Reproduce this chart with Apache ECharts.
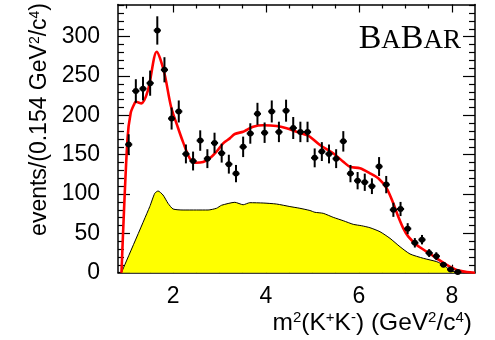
<!DOCTYPE html>
<html>
<head>
<meta charset="utf-8">
<script src="https://cdn.jsdelivr.net/npm/echarts@6/dist/echarts.min.js"></script>
<style>
  html, body { margin: 0; padding: 0; background: #fff; }
  #chart { width: 495px; height: 340px; }
</style>
</head>
<body>
<div id="chart"></div>
<script>
// m^2(K+K-) bin centres (GeV^2/c^4), bin width 0.154
const binCenters = [1.045, 1.199, 1.353, 1.507, 1.661, 1.815, 1.969, 2.123, 2.277, 2.431,
  2.585, 2.739, 2.893, 3.047, 3.201, 3.355, 3.509, 3.663, 3.817, 3.971,
  4.125, 4.279, 4.433, 4.587, 4.741, 4.895, 5.049, 5.203, 5.357, 5.511,
  5.665, 5.819, 5.973, 6.127, 6.281, 6.435, 6.589, 6.743, 6.897, 7.051,
  7.205, 7.359, 7.513, 7.667, 7.821, 7.975, 8.129];
const counts = [163, 231, 234, 241, 308, 258, 196, 205, 151, 142,
  168, 145, 165, 152, 138, 126, 160, 177, 202, 178,
  205, 179, 206, 184, 179, 179, 146, 154, 151, 145,
  167, 126, 117, 115, 110, 135, 112, 80, 81, 56,
  38, 42, 25, 21, 10, 4, 1];
const countErrors = [13, 15, 15, 16, 18, 16, 14, 14, 12, 12,
  13, 12, 13, 12, 12, 11, 13, 13, 14, 13,
  14, 13, 14, 14, 13, 13, 12, 12, 12, 12,
  13, 11, 11, 11, 10, 12, 11, 9, 9, 7,
  6, 6, 5, 5, 3, 2, 1];
const binHalfWidth = 0.077;

// total fit projection
const fitX = [0.89, 1.017, 1.088, 1.175, 1.196, 1.319, 1.461, 1.649, 1.806, 1.957,
  2.108, 2.216, 2.36, 2.489, 2.647, 2.791, 2.935, 3.078, 3.222, 3.33,
  3.509, 3.582, 3.724, 3.94, 4.228, 4.444, 4.659, 4.875, 4.946, 5.162,
  5.448, 5.664, 5.808, 6.024, 6.239, 6.418, 6.599, 6.741, 6.849, 6.957,
  7.065, 7.246, 7.461, 7.677, 7.892, 8.108, 8.323, 8.5];
const fitY = [0, 168.7, 203, 215.7, 217.4, 215.3, 232.2, 280.9, 255.5, 211,
  184, 166, 145.4, 139.8, 140.7, 145.4, 153.8, 164.5, 170.8, 176.3,
  179.2, 181.4, 185.6, 187.4, 186.5, 183.6, 179.2, 175, 172.9, 162.3,
  151.8, 141.1, 134.7, 132.7, 126.4, 120, 107.3, 88.2, 71.2, 56.4,
  45.8, 35.2, 26.7, 18.3, 9.8, 3.4, 0.9, 0];

// background component
const bkgX = [0.888, 1.498, 1.606, 1.677, 1.784, 1.892, 2.0, 2.216, 2.504, 2.754,
  2.935, 3.043, 3.33, 3.509, 3.653, 3.94, 4.228, 4.515, 4.731, 4.946,
  5.054, 5.233, 5.448, 5.664, 5.879, 6.06, 6.239, 6.455, 6.67, 6.886,
  7.101, 7.388, 7.677, 7.819, 7.963, 8.108];
const bkgY = [0, 83.9, 100.9, 103.9, 98.8, 88.2, 81, 79.7, 79.7, 79.7,
  81.9, 85.7, 89.5, 86.4, 89, 88.6, 87.3, 84.1, 81.9, 79.1,
  76.8, 75.5, 70.4, 66.1, 61.5, 59.7, 57.2, 52.1, 43.7, 33,
  23.8, 18.3, 14, 9.8, 3.4, 0];

// axis ticks
const xMajorTicks = [2, 4, 6, 8];
const xMinorTicks = [1, 1.5, 2.5, 3, 3.5, 4.5, 5, 5.5, 6.5, 7, 7.5];
const yMajorTicks = [0, 50, 100, 150, 200, 250, 300];
const yMinorTicks = [10, 20, 30, 40, 60, 70, 80, 90, 110, 120, 130, 140, 160, 170, 180, 190,
  210, 220, 230, 240, 260, 270, 280, 290, 310, 320, 330, 340];

const X_MIN = 0.815, X_MAX = 8.5, Y_MIN = 0, Y_MAX = 341;
const FONT = 'Liberation Sans, Arial, sans-serif';

function xAxisDef(position, ticks, len, withLine, withLabels) {
  return {
    type: 'value', position: position, min: X_MIN, max: X_MAX,
    axisLine: { show: withLine, onZero: false, lineStyle: { color: '#000', width: 1.5 } },
    axisTick: { show: true, inside: true, length: len, customValues: ticks,
      lineStyle: { color: '#000', width: 1.2 } },
    axisLabel: withLabels ? { show: true, customValues: ticks, margin: 12,
      color: '#000', fontSize: 23, fontFamily: FONT } : { show: false },
    splitLine: { show: false }
  };
}
function yAxisDef(position, ticks, len, withLine, withLabels) {
  return {
    type: 'value', position: position, min: Y_MIN, max: Y_MAX,
    axisLine: { show: withLine, onZero: false, lineStyle: { color: '#000', width: 1.5 } },
    axisTick: { show: true, inside: true, length: len, customValues: ticks,
      lineStyle: { color: '#000', width: 1.2 } },
    axisLabel: withLabels ? { show: true, customValues: ticks, margin: 18,
      color: '#000', fontSize: 23, fontFamily: FONT } : { show: false },
    splitLine: { show: false }
  };
}

const chart = echarts.init(document.getElementById('chart'), null, { renderer: 'canvas' });

const supStyle = { fontSize: 14, fontFamily: FONT, color: '#000', verticalAlign: 'top', lineHeight: 24 };
const supStyleX = { fontSize: 15, fontFamily: FONT, color: '#000', verticalAlign: 'top', lineHeight: 25 };

chart.setOption({
  animation: false,
  backgroundColor: '#fff',
  grid: { left: 118, right: 20, top: 4.5, bottom: 67.3, containLabel: false },
  xAxis: [
    xAxisDef('bottom', xMajorTicks, 8, true, true),
    xAxisDef('bottom', xMinorTicks, 4, false, false),
    xAxisDef('top', xMajorTicks, 8, true, false),
    xAxisDef('top', xMinorTicks, 4, false, false)
  ],
  yAxis: [
    yAxisDef('left', yMajorTicks, 12, true, true),
    yAxisDef('left', yMinorTicks, 6, false, false),
    yAxisDef('right', yMajorTicks, 12, true, false),
    yAxisDef('right', yMinorTicks, 6, false, false)
  ],
  series: [
    {
      name: 'background', type: 'line', xAxisIndex: 0, yAxisIndex: 0,
      data: bkgX.map((x, i) => [x, bkgY[i]]),
      showSymbol: false, smooth: 0.2,
      lineStyle: { color: '#000', width: 1 },
      areaStyle: { color: '#ffff00', opacity: 1 },
      z: 2
    },
    {
      name: 'fit', type: 'line', xAxisIndex: 0, yAxisIndex: 0,
      data: fitX.map((x, i) => [x, fitY[i]]),
      showSymbol: false, smooth: 0.3,
      lineStyle: { color: '#ff0000', width: 2.6 },
      z: 3
    },
    {
      name: 'data', type: 'custom', xAxisIndex: 0, yAxisIndex: 0,
      data: binCenters.map((x, i) => [x, counts[i], countErrors[i]]),
      encode: { x: 0, y: 1 },
      renderItem: function (params, api) {
        const x = api.value(0), y = api.value(1), e = api.value(2);
        const c = api.coord([x, y]);
        const lo = api.coord([x, Math.max(y - e, 0)]);
        const hi = api.coord([x, y + e]);
        const l = api.coord([x - binHalfWidth, y]);
        const r = api.coord([x + binHalfWidth, y]);
        return {
          type: 'group',
          children: [
            { type: 'line', shape: { x1: c[0], y1: lo[1], x2: c[0], y2: hi[1] },
              style: { stroke: '#000', lineWidth: 2 } },
            { type: 'line', shape: { x1: l[0], y1: c[1], x2: r[0], y2: c[1] },
              style: { stroke: '#000', lineWidth: 2 } },
            { type: 'circle', shape: { cx: c[0], cy: c[1], r: 3 },
              style: { fill: '#000' } }
          ]
        };
      },
      z: 5
    }
  ],
  graphic: [
    {
      type: 'text', x: 40, y: 3, rotation: Math.PI / 2, z: 10,
      style: {
        text: 'events/(0.154 GeV{sup|2}/c{sup|4})',
        align: 'right', verticalAlign: 'middle',
        font: '23px ' + FONT, fill: '#000',
        rich: { sup: supStyle }
      }
    },
    {
      type: 'text', x: 472, y: 323, z: 10,
      style: {
        text: 'm{sup|2}(K{sup|+}K{sup|-}) (GeV{sup|2}/c{sup|4})',
        align: 'right', verticalAlign: 'middle',
        font: '24.5px ' + FONT, fill: '#000',
        rich: { sup: supStyleX }
      }
    },
    {
      type: 'text', x: 461, y: 56, z: 10,
      style: {
        text: '{b|B}{s|A}{b|B}{s|AR}',
        align: 'right', verticalAlign: 'bottom',
        fill: '#000',
        rich: {
          b: { fontSize: 34, fontFamily: 'Liberation Serif, Times New Roman, serif', color: '#000', verticalAlign: 'bottom' },
          s: { fontSize: 27, fontFamily: 'Liberation Serif, Times New Roman, serif', color: '#000', verticalAlign: 'bottom', padding: [0, 0, 1.5, 0] }
        }
      }
    }
  ]
});
</script>
</body>
</html>
